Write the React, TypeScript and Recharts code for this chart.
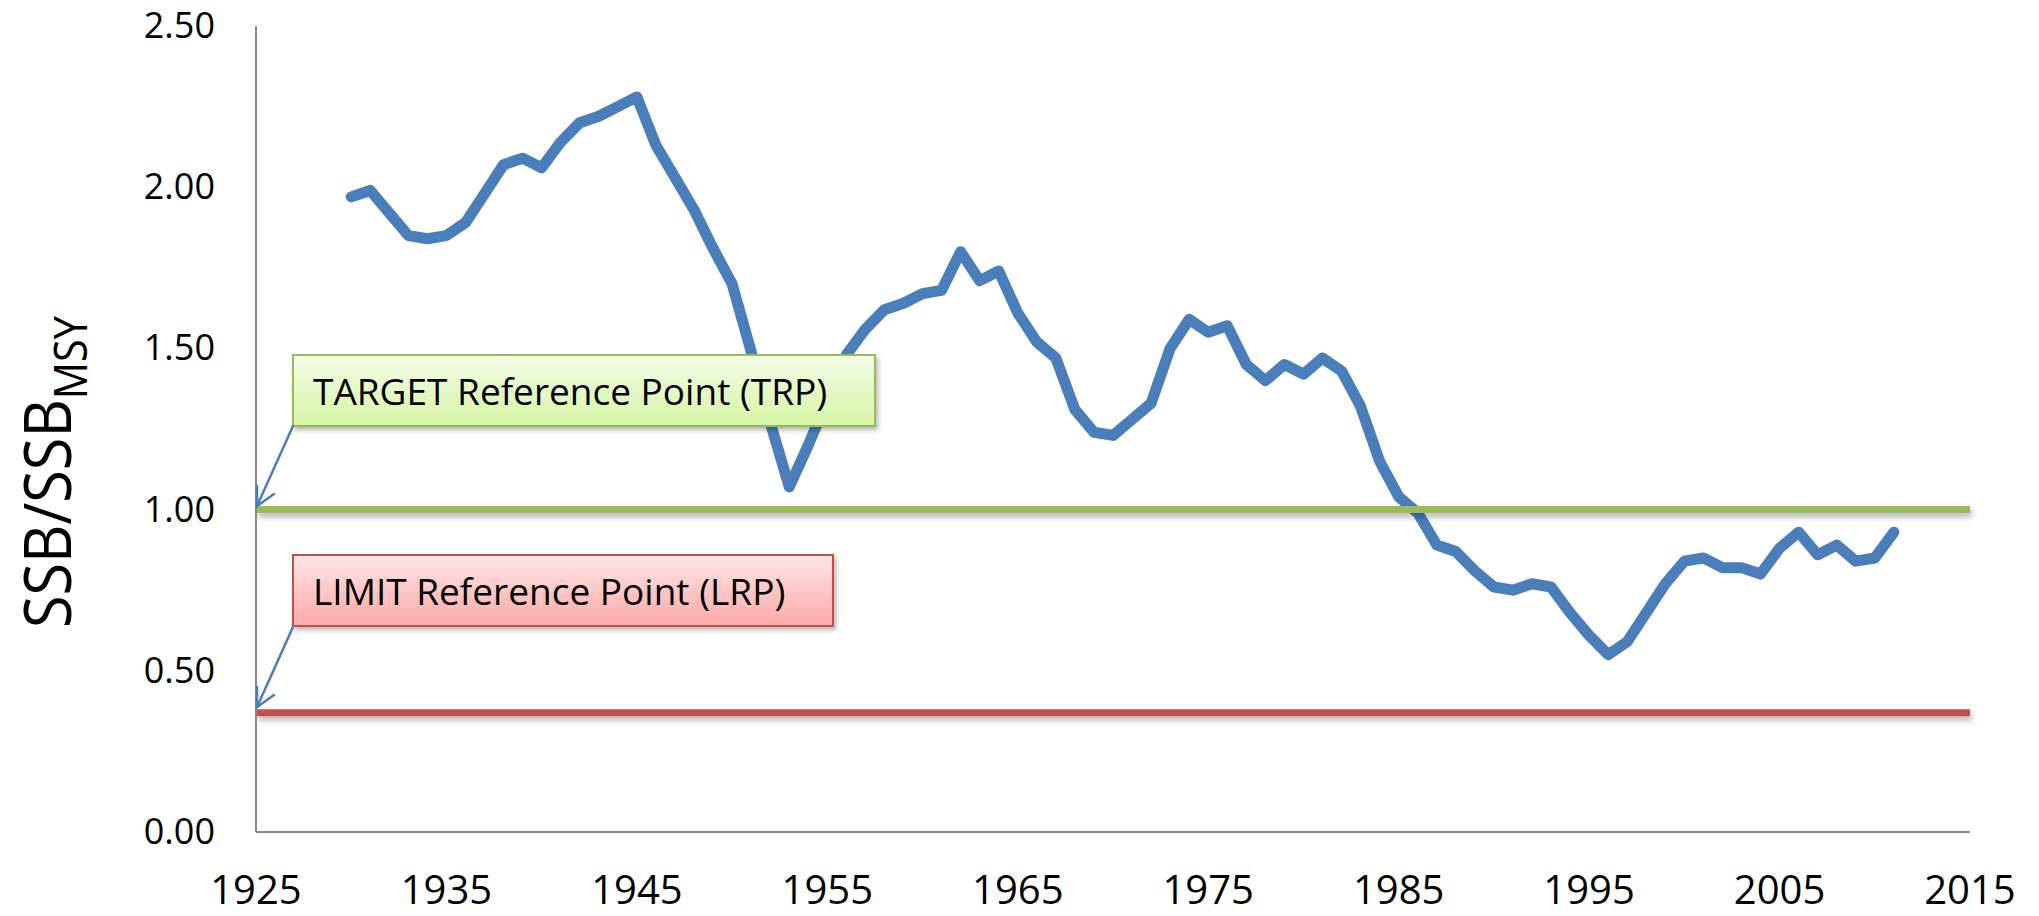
import { LineChart, Line, XAxis, YAxis, ReferenceLine } from 'recharts';

const years = [
  1930, 1931, 1932, 1933, 1934, 1935, 1936, 1937, 1938, 1939,
  1940, 1941, 1942, 1943, 1944, 1945, 1946, 1947, 1948, 1949,
  1950, 1951, 1952, 1953, 1954, 1955, 1956, 1957, 1958, 1959,
  1960, 1961, 1962, 1963, 1964, 1965, 1966, 1967, 1968, 1969,
  1970, 1971, 1972, 1973, 1974, 1975, 1976, 1977, 1978, 1979,
  1980, 1981, 1982, 1983, 1984, 1985, 1986, 1987, 1988, 1989,
  1990, 1991, 1992, 1993, 1994, 1995, 1996, 1997, 1998, 1999,
  2000, 2001, 2002, 2003, 2004, 2005, 2006, 2007, 2008, 2009,
  2010, 2011,
];

const ssbRatio = [
  1.97, 1.99, 1.92, 1.85, 1.84, 1.85, 1.89, 1.98, 2.07, 2.09,
  2.06, 2.14, 2.20, 2.22, 2.25, 2.28, 2.13, 2.03, 1.93, 1.81,
  1.70, 1.49, 1.27, 1.07, 1.20, 1.34, 1.48, 1.56, 1.62, 1.64,
  1.67, 1.68, 1.80, 1.71, 1.74, 1.61, 1.52, 1.47, 1.31, 1.24,
  1.23, 1.28, 1.33, 1.50, 1.59, 1.55, 1.57, 1.45, 1.40, 1.45,
  1.42, 1.47, 1.43, 1.32, 1.15, 1.04, 0.99, 0.89, 0.87, 0.81,
  0.76, 0.75, 0.77, 0.76, 0.68, 0.61, 0.55, 0.59, 0.68, 0.77,
  0.84, 0.85, 0.82, 0.82, 0.80, 0.88, 0.93, 0.86, 0.89, 0.84,
  0.85, 0.93,
];

const xTicks = [1925, 1935, 1945, 1955, 1965, 1975, 1985, 1995, 2005, 2015];
const yTicks = [0, 0.5, 1.0, 1.5, 2.0, 2.5];

const TRP = 1.0;
const LRP = 0.37;

const data = years.map((year, i) => ({ year, ssb: ssbRatio[i] }));

const FONT = '"Open Sans", sans-serif';

const XTick = (props: any) => (
  <text x={props.x} y={props.y} dy={72} textAnchor="middle" fontFamily={FONT} fontSize={40} fill="#000">
    {props.payload.value}
  </text>
);

const YTick = (props: any) => (
  <text x={props.x} y={props.y} dy={12} textAnchor="end" fontFamily={FONT} fontSize={36} fill="#000">
    {Number(props.payload.value).toFixed(2)}
  </text>
);

const Overlay = () => (
  <svg width={2039} height={916} style={{ position: 'absolute', left: 0, top: 0, pointerEvents: 'none' }}>
    <defs>
      <linearGradient id="trpFill" x1="0" y1="0" x2="0" y2="1">
        <stop offset="0%" stopColor="#F3FCE8" />
        <stop offset="100%" stopColor="#D6F5A4" />
      </linearGradient>
      <linearGradient id="lrpFill" x1="0" y1="0" x2="0" y2="1">
        <stop offset="0%" stopColor="#FFE6E6" />
        <stop offset="100%" stopColor="#FCA8A8" />
      </linearGradient>
      <filter id="boxShadow" x="-5%" y="-20%" width="110%" height="150%">
        <feDropShadow dx="2" dy="3" stdDeviation="2.5" floodColor="#000" floodOpacity="0.3" />
      </filter>
    </defs>

    {/* y axis title */}
    <text transform="translate(71,628) rotate(-90) scale(0.9,1)" fontFamily={FONT} fontSize={66} fill="#000">
      SSB/SSB
      <tspan fontSize={46} dy={16}>MSY</tspan>
    </text>

    {/* target reference point callout */}
    <rect x={293} y={355} width={582} height={71} fill="url(#trpFill)" stroke="#9BBB59" strokeWidth={2} filter="url(#boxShadow)" />
    <text x={313} y={405} fontFamily={FONT} fontSize={37} fill="#000">TARGET Reference Point (TRP)</text>
    <g stroke="#4A7EBB" strokeWidth={2.5} fill="none" strokeLinecap="round">
      <line x1={293} y1={426} x2={257} y2={506} />
      <polyline points="257,486 257,506 274,494" />
    </g>

    {/* limit reference point callout */}
    <rect x={293} y={555} width={540} height={71} fill="url(#lrpFill)" stroke="#C0504D" strokeWidth={2} filter="url(#boxShadow)" />
    <text x={313} y={605} fontFamily={FONT} fontSize={37} fill="#000">LIMIT Reference Point (LRP)</text>
    <g stroke="#4A7EBB" strokeWidth={2.5} fill="none" strokeLinecap="round">
      <line x1={293} y1={627} x2={257} y2={707} />
      <polyline points="257,687 257,707 274,695" />
    </g>
  </svg>
);

export default function App() {
  return (
    <div style={{ position: 'relative', width: 2039, height: 916, background: '#fff' }}>
      <style>{'body{margin:0;}'}</style>
      <LineChart width={2039} height={916} data={data} margin={{ top: 26, right: 69, bottom: 0, left: 0 }}>
        <XAxis
          dataKey="year"
          type="number"
          domain={[1925, 2015]}
          ticks={xTicks}
          height={84}
          tickLine={false}
          tickSize={0}
          tickMargin={0}
          tick={<XTick />}
          axisLine={{ stroke: '#8A8A8A', strokeWidth: 2 }}
        />
        <YAxis
          type="number"
          domain={[0, 2.5]}
          ticks={yTicks}
          width={256}
          tickLine={false}
          tickSize={0}
          tickMargin={41}
          tick={<YTick />}
          axisLine={{ stroke: '#8A8A8A', strokeWidth: 2 }}
        />
        <Line
          dataKey="ssb"
          type="linear"
          stroke="#4A7EBB"
          strokeWidth={11}
          strokeLinejoin="round"
          strokeLinecap="round"
          dot={false}
          activeDot={false}
          isAnimationActive={false}
        />
        <ReferenceLine y={TRP} stroke="#9BBB59" strokeWidth={7} style={{ filter: 'drop-shadow(2px 4px 3px rgba(0,0,0,0.3))' }} />
        <ReferenceLine y={LRP} stroke="#C0504D" strokeWidth={7} style={{ filter: 'drop-shadow(2px 4px 3px rgba(0,0,0,0.3))' }} />
      </LineChart>
      <Overlay />
    </div>
  );
}
